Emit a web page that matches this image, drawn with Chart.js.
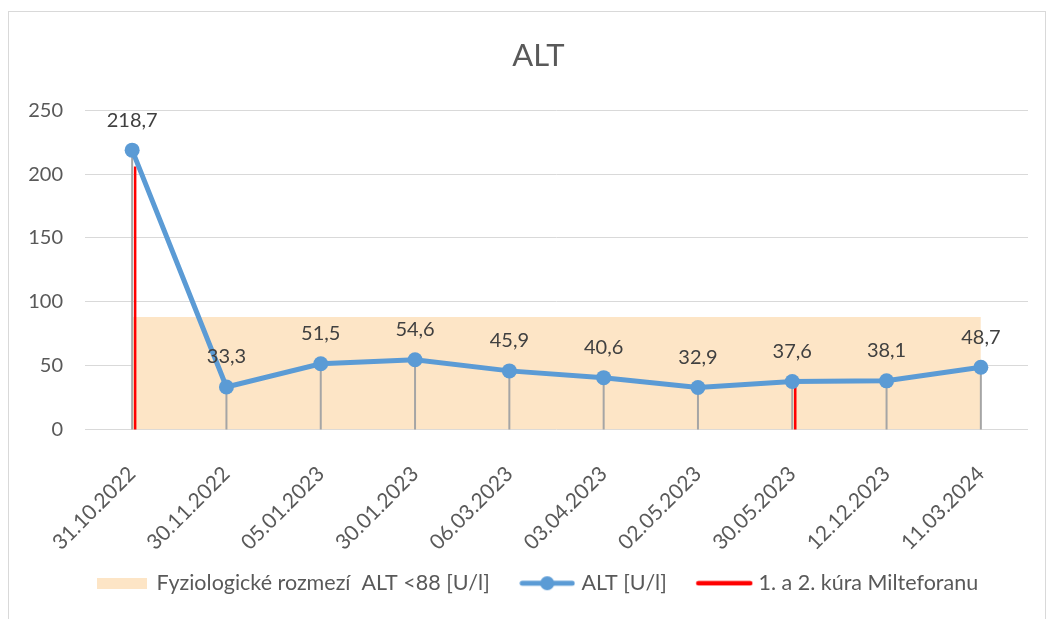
<!DOCTYPE html>
<html><head><meta charset="utf-8">
<script src="https://cdn.jsdelivr.net/npm/chart.js@4.4.1/dist/chart.umd.min.js"></script>
<style>html,body{margin:0;padding:0;background:#fff;overflow:hidden}#wrap{width:1055px;height:619px;position:relative}canvas{display:block}</style>
</head><body><div id="wrap"><canvas id="c" width="1055" height="619"></canvas></div>
<script>
const categories = ['31.10.2022','30.11.2022','05.01.2023','30.01.2023','06.03.2023','03.04.2023','02.05.2023','30.05.2023','12.12.2023','11.03.2024'];
const altValues = [218.7, 33.3, 51.5, 54.6, 45.9, 40.6, 32.9, 37.6, 38.1, 48.7];
const rangeLimit = [88, 88, 88, 88, 88, 88, 88, 88, 88, 88];
const treatmentValues = [206, null, null, null, null, null, null, 34, null, null];
const yTicks = [0, 50, 100, 150, 200, 250];
const seriesNames = ['Fyziologické rozmezí  ALT <88 [U/l]', 'ALT [U/l]', '1. a 2. kúra Milteforanu'];
const chartTitle = 'ALT';

const FONT = 'Lato';
const BLUE = '#5B9BD5', ORANGE = '#FDE5C6', RED = '#FF0000', TXT = '#595959';

function makeMarker(kind) {
  const c = document.createElement('canvas');
  const g = c.getContext('2d');
  if (kind === 0) {
    c.width = 50; c.height = 11;
    g.fillStyle = ORANGE; g.fillRect(0, 0, 50, 11);
  } else if (kind === 1) {
    c.width = 56; c.height = 16;
    g.strokeStyle = BLUE; g.lineWidth = 5; g.lineCap = 'round';
    g.beginPath(); g.moveTo(3, 8); g.lineTo(53, 8); g.stroke();
    g.fillStyle = BLUE; g.beginPath(); g.arc(28, 8, 7, 0, Math.PI * 2); g.fill();
  } else {
    c.width = 58; c.height = 6;
    g.strokeStyle = RED; g.lineWidth = 4.5; g.lineCap = 'round';
    g.beginPath(); g.moveTo(3, 3); g.lineTo(55, 3); g.stroke();
  }
  return c;
}

const frame = {
  id: 'frame',
  afterLayout(chart) {
    // let the rotated category labels run past the axis box, as in the reference
    const xs = chart.scales.x;
    if (xs) xs._computeLabelArea = () => undefined;
  },
  beforeDraw(chart) {
    const ctx = chart.ctx;
    ctx.save();
    ctx.fillStyle = '#fff'; ctx.fillRect(0, 0, chart.width, chart.height);
    ctx.strokeStyle = '#D9D9D9'; ctx.lineWidth = 1;
    ctx.strokeRect(8.5, 11.5, 1037, 700);
    ctx.restore();
  }
};

const dropLines = {
  id: 'dropLines',
  beforeDatasetDraw(chart, args) {
    if (args.index !== 1) return;
    const {ctx, scales: {x, y}} = chart;
    const y0 = y.getPixelForValue(0);
    ctx.save();
    ctx.lineWidth = 2; ctx.strokeStyle = '#A5A5A5';
    altValues.forEach((v, i) => {
      const px = x.getPixelForValue(i);
      ctx.beginPath(); ctx.moveTo(px, y0); ctx.lineTo(px, y.getPixelForValue(v)); ctx.stroke();
    });
    ctx.lineWidth = 2.5; ctx.strokeStyle = RED;
    treatmentValues.forEach((v, i) => {
      if (v == null) return;
      const px = x.getPixelForValue(i) + 3;
      ctx.beginPath(); ctx.moveTo(px, y0); ctx.lineTo(px, y.getPixelForValue(v)); ctx.stroke();
    });
    ctx.restore();
  }
};

const valueLabels = {
  id: 'valueLabels',
  afterDatasetsDraw(chart) {
    const {ctx, scales: {x, y}} = chart;
    ctx.save();
    ctx.font = '20px ' + FONT;
    ctx.fillStyle = '#404040';
    ctx.textAlign = 'center';
    ctx.textBaseline = 'middle';
    altValues.forEach((v, i) => {
      ctx.fillText(v.toFixed(1).replace('.', ','), x.getPixelForValue(i), y.getPixelForValue(v) - 30);
    });
    ctx.restore();
  }
};

function build() {
  const markers = [makeMarker(0), makeMarker(1), makeMarker(2)];
  new Chart(document.getElementById('c'), {
    type: 'line',
    data: {
      labels: categories,
      datasets: [
        { label: seriesNames[0], data: rangeLimit, backgroundColor: ORANGE, borderColor: ORANGE, borderWidth: 0, fill: 'origin', pointRadius: 0, order: 2 },
        { label: seriesNames[1], data: altValues, borderColor: BLUE, backgroundColor: BLUE, borderWidth: 5, tension: 0,
          pointRadius: 7.5, pointBorderWidth: 0, pointBackgroundColor: BLUE, fill: false, order: 1 },
        { label: seriesNames[2], data: treatmentValues, borderColor: RED, backgroundColor: RED, showLine: false, pointRadius: 0, fill: false, order: 3 }
      ]
    },
    options: {
      responsive: false,
      animation: false,
      devicePixelRatio: 1,
      layout: { padding: { left: 22, right: 0, top: 0, bottom: 15 } },
      plugins: {
        tooltip: { enabled: false },
        title: { display: true, text: chartTitle, color: TXT, font: { family: FONT, size: 31, weight: 'normal' }, padding: { top: 37, bottom: 36 } },
        legend: {
          position: 'bottom',
          labels: {
            usePointStyle: true, pointStyleWidth: 47, padding: 34, color: TXT,
            font: { family: FONT, size: 21.5 },
            generateLabels: () => seriesNames.map((t, i) => ({
              text: t, pointStyle: markers[i], fillStyle: '#fff', strokeStyle: 'rgba(0,0,0,0)',
              lineWidth: 0, hidden: false, datasetIndex: i, fontColor: TXT
            }))
          }
        }
      },
      scales: {
        x: {
          type: 'category', offset: true,
          grid: { display: false, drawTicks: false },
          border: { display: false },
          ticks: { autoSkip: false, maxRotation: 45, minRotation: 45, padding: 32, color: TXT, font: { family: FONT, size: 21 } },
          afterFit(s) { s.height = 109; }
        },
        y: {
          min: 0, max: 250,
          afterBuildTicks(s) { s.ticks = yTicks.map(v => ({ value: v })); },
          grid: { color: '#D9D9D9', lineWidth: 1, drawTicks: false },
          border: { display: false },
          ticks: { padding: 22, color: TXT, font: { family: FONT, size: 20 } },
          afterFit(s) { s.width = 63; }
        },
        yRight: {
          type: 'linear', position: 'right', display: true,
          grid: { display: false, drawTicks: false },
          border: { display: false },
          ticks: { display: false },
          afterFit(s) { s.width = 27; }
        }
      }
    },
    plugins: [frame, dropLines, valueLabels]
  });
}

const ready = (document.fonts && document.fonts.load) ? Promise.all([document.fonts.load('20px Lato'), document.fonts.load('31px Lato')]).catch(() => {}) : Promise.resolve();
ready.then(build, build);
</script>
</body></html>
